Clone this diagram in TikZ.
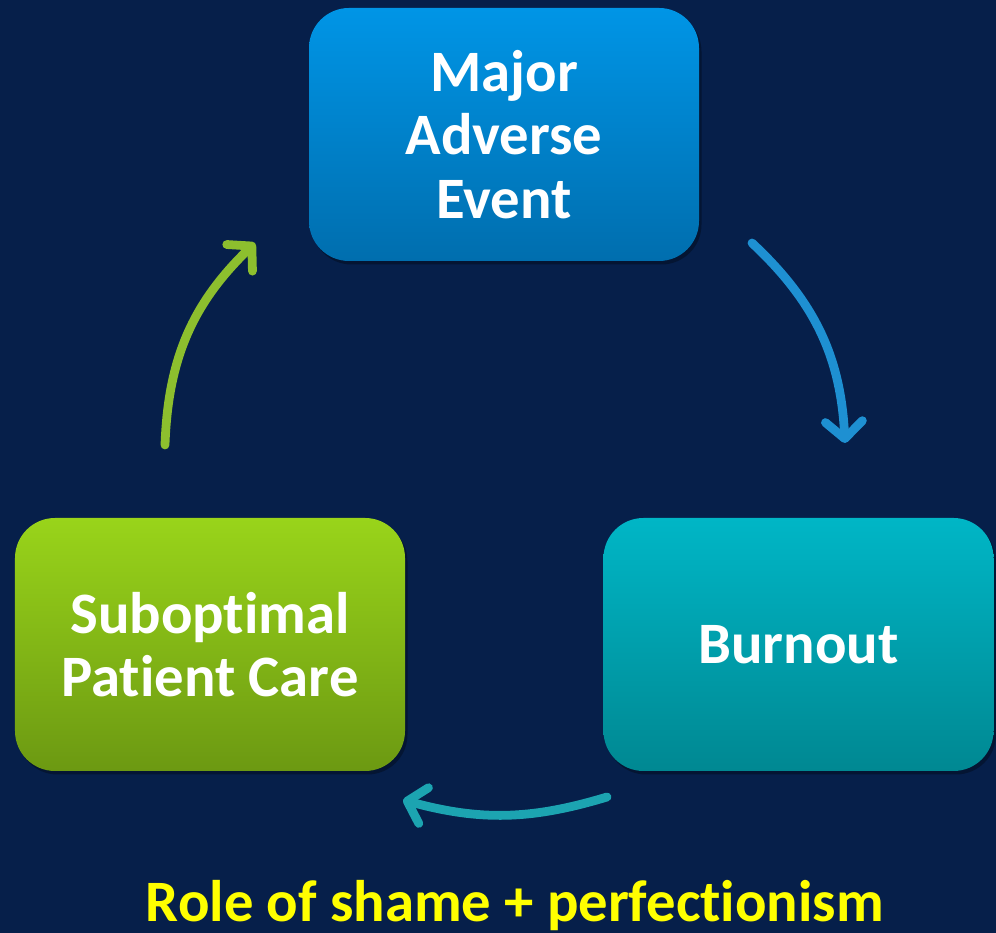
\documentclass[tikz,border=0pt]{standalone}
\usepackage{fontspec}
\setmainfont{Carlito}[RawFeature=-liga]
\usetikzlibrary{arrows.meta,shadows}
\definecolor{bgnavy}{HTML}{061F4A}
\definecolor{eventtop}{HTML}{0095E6}
\definecolor{eventbot}{HTML}{006EAE}
\definecolor{burntop}{HTML}{00B6C6}
\definecolor{burnbot}{HTML}{008892}
\definecolor{caretop}{HTML}{99D41A}
\definecolor{carebot}{HTML}{6C9912}
\definecolor{arrowblue}{HTML}{1E90D2}
\definecolor{arrowteal}{HTML}{1CA4B1}
\definecolor{arrowgreen}{HTML}{8DBF2E}
\definecolor{titleyellow}{HTML}{FFFF00}
\tikzset{
  stagebox/.style={
    rectangle, rounded corners=0.8cm, draw=none,
    minimum width=7.8cm, minimum height=5.06cm, align=center,
    font=\bfseries\fontsize{33.4}{36}\selectfont, text=white,
    drop shadow={opacity=0.3, shadow xshift=0.05cm, shadow yshift=-0.07cm, fill=black}
  },
  cyclearrow/.style={
    -{Straight Barb[round, length=3.4mm, width=7.4mm]},
    line width=5pt, line cap=round, bend left=22
  },
  caption/.style={font=\bfseries\fontsize{33.4}{38}\selectfont, text=titleyellow}
}

\begin{document}
\begin{tikzpicture}
\fill[bgnavy] (0,0) rectangle (19.92,18.66);
\useasboundingbox (0,0) rectangle (19.92,18.66);
% the three stages of the cycle
\node[stagebox, top color=eventtop, bottom color=eventbot] (event) at (10.08,15.97) {Major\\Adverse\\Event};
\node[stagebox, top color=burntop, bottom color=burnbot] (burnout) at (15.97,5.77) {Burnout};
\node[stagebox, top color=caretop, bottom color=carebot] (care) at (4.20,5.77) {Suboptimal\\Patient Care};
% arrow ends between the boxes
\coordinate (eventexit) at (15.04,13.80);
\coordinate (burnentry) at (16.90,9.80);
\coordinate (burnexit) at (12.14,2.72);
\coordinate (careentry) at (8.06,2.66);
\coordinate (careexit) at (3.30,9.76);
\coordinate (evententry) at (5.10,13.80);
\draw[cyclearrow, draw=arrowblue] (eventexit) to (burnentry);
\draw[cyclearrow, draw=arrowteal, bend left=16] (burnexit) to (careentry);
\draw[cyclearrow, draw=arrowgreen] (careexit) to (evententry);
\node[caption, anchor=base] (role) at (10.30,0.22) {Role of shame + perfectionism};
\end{tikzpicture}
\end{document}
